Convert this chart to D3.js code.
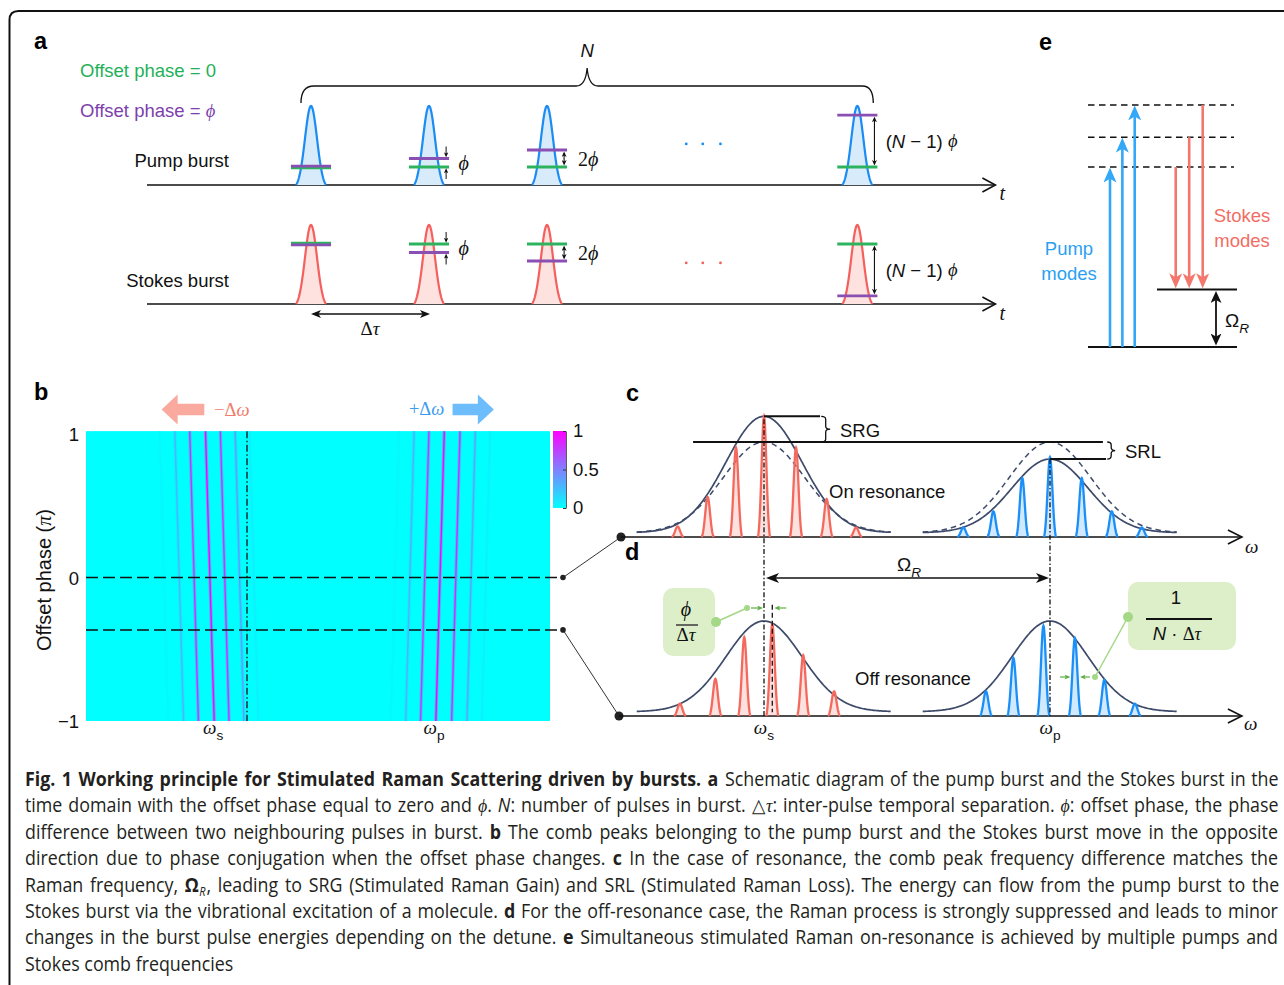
<!DOCTYPE html>
<html>
<head>
<meta charset="utf-8">
<title>Stimulated Raman Scattering driven by bursts</title>
<script src="https://cdn.jsdelivr.net/npm/d3@7/dist/d3.min.js"></script>
<style>
  html, body { margin: 0; padding: 0; background: #fff; }
  svg { display: block; }
</style>
</head>
<body>
<svg id="fig" width="1284" height="985" xmlns="http://www.w3.org/2000/svg"></svg>
<script>
// ---------------- data ----------------
// (a) burst pulses: arrival time in units of Δτ, phase of each pulse in units of ϕ
const pulseTimes       = [0, 1, 2, 4.63];
const pulseAmp         = [1, 1, 1, 1];
const pumpPhaseSteps   = [0, 1, 2, 6.1];
const stokesPhaseSteps = [0, -1, -2, -6.1];
const ellipsisTimes    = [3.18, 3.32, 3.47];

// (b) comb lines versus offset phase: frequency at zero phase (a.u.) and normalised strength
const stokesLineFreq  = [16.8, 20.1, 23.3, 26.7, 29.9, 33.1, 36.2];
const stokesLineLevel = [0.03, 0.28, 0.8, 1.0, 0.8, 0.38, 0.06];
const pumpLineFreq    = [66.6, 69.8, 73.0, 76.3, 79.7, 83.0, 86.2];
const pumpLineLevel   = [0.03, 0.3, 0.78, 1.0, 0.82, 0.35, 0.06];
const lineDrift       = [-0.93, 0.9];        // shift per π of offset phase: Stokes, pump
const phaseTicks      = [1, 0, -1];
const phaseTickLabels = ["1", "0", "−1"];
const colorbarTicks   = [1, 0.5, 0];
const colorbarLabels  = ["1", "0.5", "0"];
const freqTicks       = [27.4, 75.0];        // ω_s, ω_p
const freqTickSubs    = ["s", "p"];
const stokesRefFreq   = 34.7;
const selectedPhases  = [0, -0.365];         // on resonance (c), off resonance (d)

// (c, d) spectra: frequency in units of Ω_R measured from ω_s, amplitude relative to the input envelope
const combOnStokesFreq  = [-0.302, -0.197, -0.098, 0, 0.112, 0.219, 0.322];
const combOnStokesAmp   = [0.11, 0.42, 0.94, 1.27, 0.94, 0.40, 0.10];
const combOnPumpFreq    = [0.697, 0.802, 0.903, 1.0, 1.111, 1.216, 1.321];
const combOnPumpAmp     = [0.10, 0.27, 0.62, 0.84, 0.62, 0.27, 0.10];
const combOffStokesFreq = [-0.294, -0.170, -0.069, 0.029, 0.137, 0.245];
const combOffStokesAmp  = [0.13, 0.39, 0.83, 0.97, 0.64, 0.26];
const combOffPumpFreq   = [0.776, 0.872, 0.977, 1.087, 1.190, 1.297];
const combOffPumpAmp    = [0.26, 0.61, 0.95, 0.82, 0.38, 0.13];
const envelopeCenters   = [0, 1];            // ω_s, ω_p
const envelopeOnPeaks   = [1.27, 0.82];      // after gain / loss
const envelopeInputPeak = 1.0;
const envelopeOffPeaks  = [1.0, 1.0];

// (e) energy levels in units of Ω_R
const virtualLevels = [3.13, 3.65, 4.21];
const vibLevel = 1;

// caption
const captionTitle = "Fig. 1 Working principle for Stimulated Raman Scattering driven by bursts. a";
const captionLines = [
  [["Schematic diagram of the pump burst and the Stokes burst in the", ""]],
  [["time domain with the offset phase equal to zero and ", ""], ["ϕ", "m"], [". ", ""], ["N", "i"],
   [": number of pulses in burst. ", ""], ["△", "g"], ["τ", "m"], [": inter-pulse temporal separation. ", ""],
   ["ϕ", "m"], [": offset phase, the phase", ""]],
  [["difference between two neighbouring pulses in burst. ", ""], ["b", "b"],
   [" The comb peaks belonging to the pump burst and the Stokes burst move in the opposite", ""]],
  [["direction due to phase conjugation when the offset phase changes. ", ""], ["c", "b"],
   [" In the case of resonance, the comb peak frequency difference matches the", ""]],
  [["Raman frequency, ", ""], ["Ω", "b"], ["R", "_i"],
   [", leading to SRG (Stimulated Raman Gain) and SRL (Stimulated Raman Loss). The energy can flow from the pump burst to the", ""]],
  [["Stokes burst via the vibrational excitation of a molecule. ", ""], ["d", "b"],
   [" For the off-resonance case, the Raman process is strongly suppressed and leads to minor", ""]],
  [["changes in the burst pulse energies depending on the detune. ", ""], ["e", "b"],
   [" Simultaneous stimulated Raman on-resonance is achieved by multiple pumps and", ""]],
  [["Stokes comb frequencies", ""]]
];

// ---------------- drawing ----------------
const svg = d3.select("#fig");
const defs = svg.append("defs");
const SANS = "'Liberation Sans', Arial, Helvetica, sans-serif";
const SERIF = "'Liberation Serif', 'Times New Roman', serif";
const CAPF = "'Open Sans', 'Noto Sans', sans-serif";
const INK = "#111";

let markerCount = 0;
function arrowHead(color, len, wid) {
  const id = "ah" + (markerCount++);
  defs.append("marker").attr("id", id)
    .attr("viewBox", "0 0 10 10").attr("preserveAspectRatio", "none")
    .attr("refX", 6).attr("refY", 5)
    .attr("markerWidth", len).attr("markerHeight", wid)
    .attr("markerUnits", "userSpaceOnUse").attr("orient", "auto-start-reverse")
    .append("path").attr("d", "M0,0 L10,5 L0,10 L2.6,5 Z").attr("fill", color);
  return `url(#${id})`;
}
function arrow(g, x1, y1, x2, y2, o = {}) {
  const color = o.color || INK, len = o.len || 10, wid = o.wid || 8;
  const m = arrowHead(color, len, wid);
  const L = Math.hypot(x2 - x1, y2 - y1), ux = (x2 - x1) / L, uy = (y2 - y1) / L, b = 0.4 * len;
  const ln = g.append("line")
    .attr("x1", o.both ? x1 + ux * b : x1).attr("y1", o.both ? y1 + uy * b : y1)
    .attr("x2", x2 - ux * b).attr("y2", y2 - uy * b)
    .attr("stroke", color).attr("stroke-width", o.width || 1.4)
    .attr("marker-end", m);
  if (o.both) ln.attr("marker-start", m);
  return ln;
}
function rich(g, x, y, parts, o = {}) {
  const size = o.size || 18;
  const t = g.append("text").attr("x", x).attr("y", y)
    .attr("font-family", o.family || SANS).attr("font-size", size)
    .attr("fill", o.fill || INK);
  if (o.anchor) t.attr("text-anchor", o.anchor);
  if (o.baseline) t.attr("dominant-baseline", o.baseline);
  let shifted = 0;
  parts.forEach(p => {
    const [str, st] = typeof p === "string" ? [p, ""] : p;
    const s = t.append("tspan").text(str);
    if (st.includes("m")) s.attr("font-family", SERIF).attr("font-style", "italic");
    if (st.includes("g")) s.attr("font-family", SERIF);
    if (st.includes("i")) s.attr("font-style", "italic");
    if (st.includes("b")) s.attr("font-weight", "bold");
    if (st.includes("_")) {
      const d = size * 0.3;
      s.attr("font-size", size * 0.72).attr("dy", d - shifted);
      shifted = d;
    } else if (shifted) {
      s.attr("dy", -shifted);
      shifted = 0;
    }
  });
  return t;
}
function openChevron(g, x, y, len, half) {
  g.append("path").attr("d", `M${x - len},${y - half} L${x},${y} L${x - len},${y + half}`)
    .attr("fill", "none").attr("stroke", INK).attr("stroke-width", 1.6);
}
function vbrace(g, x, y1, y2, w) {
  const m = (y1 + y2) / 2, h = w / 2;
  g.append("path")
    .attr("d", `M${x},${y1} Q${x + h},${y1} ${x + h},${y1 + 3} L${x + h},${m - 3} Q${x + h},${m} ${x + w},${m} ` +
               `Q${x + h},${m} ${x + h},${m + 3} L${x + h},${y2 - 3} Q${x + h},${y2} ${x},${y2}`)
    .attr("fill", "none").attr("stroke", INK).attr("stroke-width", 1.3);
}

// outer frame
svg.append("path").attr("d", "M9.5,995 V20 Q9.5,11 18.5,11 H1295")
  .attr("fill", "none").attr("stroke", INK).attr("stroke-width", 2);

// panel letters
[["a", 34, 49], ["e", 1039, 50], ["b", 34, 400], ["c", 626, 401], ["d", 625, 560]].forEach(([s, x, y]) =>
  svg.append("text").attr("x", x).attr("y", y).attr("font-family", SANS).attr("font-weight", "bold")
    .attr("font-size", 23.5).attr("fill", "#000").text(s));

// ======== (a) pump and Stokes bursts in time ========
const gA = svg.append("g");
const tX = d3.scaleLinear().domain([0, 1]).range([311, 429]);
const GREEN = "#2db35e", PURPLE = "#8a4fb3";
rich(gA, 80, 77, ["Offset phase = 0"], { fill: "#1fb15a", size: 18.5 });
rich(gA, 80, 117, ["Offset phase = ", ["ϕ", "m"]], { fill: "#7d3fae", size: 18.5 });

const rowsA = [
  { label: "Pump burst", labelY: 167, base: 185, peak: 106, ref: 167, steps: pumpPhaseSteps,
    stroke: "#1a8cf3", fill: "#d8ebfa", split: -0.9, tY: 200 },
  { label: "Stokes burst", labelY: 287, base: 304, peak: 225, ref: 244, steps: stokesPhaseSteps,
    stroke: "#f3605d", fill: "#fde2df", split: 0.9, tY: 320 }
];
const pulseSigma = 0.051, pulseHalf = 0.127;
const pulseE0 = Math.exp(-pulseHalf * pulseHalf / (2 * pulseSigma * pulseSigma));
const pulseShape = u => (Math.exp(-u * u / (2 * pulseSigma * pulseSigma)) - pulseE0) / (1 - pulseE0);
const pulseU = d3.range(-pulseHalf, pulseHalf + 1e-9, pulseHalf / 40);
const markerHalf = 0.17;

rowsA.forEach(r => {
  const yA = d3.scaleLinear().domain([0, 1]).range([r.base, r.peak]);
  const yP = d3.scaleLinear().domain([0, 1]).range([r.ref, r.ref - 8.5]);
  const ax0 = tX(-1.39), ax1 = tX(5.8);
  gA.append("line").attr("x1", ax0).attr("x2", ax1).attr("y1", r.base).attr("y2", r.base)
    .attr("stroke", INK).attr("stroke-width", 1.6);
  openChevron(gA, ax1, r.base, 13, 7);
  rich(gA, ax1 + 4, r.tY, [["t", "m"]], { size: 20 });
  rich(gA, 229, r.labelY, [r.label], { anchor: "end", size: 18.5 });

  pulseTimes.forEach((t, k) => {
    const area = d3.area().x(u => tX(t + u)).y0(r.base).y1(u => yA(pulseAmp[k] * pulseShape(u)));
    const line = d3.line().x(u => tX(t + u)).y(u => yA(pulseAmp[k] * pulseShape(u)));
    gA.append("path").attr("d", area(pulseU)).attr("fill", r.fill);
    gA.append("path").attr("d", line(pulseU)).attr("fill", "none")
      .attr("stroke", r.stroke).attr("stroke-width", 2.2);

    const step = r.steps[k];
    const yG = yP(0) - (step === 0 ? r.split : 0);
    const yU = yP(step) + (step === 0 ? r.split : 0);
    const mx0 = tX(t - markerHalf), mx1 = tX(t + markerHalf);
    gA.append("line").attr("x1", mx0).attr("x2", mx1).attr("y1", yG).attr("y2", yG)
      .attr("stroke", GREEN).attr("stroke-width", 2.8);
    gA.append("line").attr("x1", mx0).attr("x2", mx1).attr("y1", yU).attr("y2", yU)
      .attr("stroke", PURPLE).attr("stroke-width", 2.8);

    if (step === 0) return;
    const top = Math.min(yG, yU), bot = Math.max(yG, yU), mid = (top + bot) / 2;
    const axx = tX(t + 0.145);
    const n = Math.abs(step);
    if (n === 1) {
      arrow(gA, axx, top - 12, axx, top - 1.2, { len: 5, wid: 4.5, width: 1 });
      arrow(gA, axx, bot + 12, axx, bot + 1.2, { len: 5, wid: 4.5, width: 1 });
      rich(gA, tX(t + 0.25), mid, [["ϕ", "m"]], { size: 20, baseline: "central" });
    } else {
      arrow(gA, axx, top + 1.5, axx, bot - 1.5, { both: true, len: 5.5, wid: 5, width: 1.1 });
      const parts = n === 2 ? [["2", "g"], ["ϕ", "m"]] : ["(", ["N", "i"], " − 1) ", ["ϕ", "m"]];
      rich(gA, tX(t + (n === 2 ? 0.262 : 0.24)), mid, parts, { size: n === 2 ? 20 : 18.5, baseline: "central" });
    }
  });
  ellipsisTimes.forEach(t => gA.append("circle").attr("cx", tX(t)).attr("cy", yA(0.52)).attr("r", 1.4)
    .attr("fill", r.stroke));
});

// brace over the N pulses
{
  const xl = tX(pulseTimes[0] - 0.085), xr = tX(pulseTimes[pulseTimes.length - 1] + 0.135), xm = (xl + xr) / 2;
  gA.append("path")
    .attr("d", `M${xl},103 C${xl},92 ${xl + 4},86 ${xl + 13},86 L${xm - 11},86 C${xm - 4},86 ${xm - 1},80 ${xm},68 ` +
               `C${xm + 1},80 ${xm + 4},86 ${xm + 11},86 L${xr - 11},86 C${xr - 3},86 ${xr},92 ${xr},103`)
    .attr("fill", "none").attr("stroke", INK).attr("stroke-width", 1.3);
  rich(gA, xm, 57, [["N", "i"]], { anchor: "middle", size: 18.5 });
}
// inter-pulse separation
arrow(gA, tX(pulseTimes[0]), 314, tX(pulseTimes[1]) + 1, 314, { both: true, len: 10, wid: 8, width: 1.4 });
rich(gA, (tX(pulseTimes[0]) + tX(pulseTimes[1])) / 2, 335, [["Δ", "g"], ["τ", "m"]], { anchor: "middle", size: 19 });

// ======== (e) energy level diagram ========
const gE = svg.append("g");
const eY = d3.scaleLinear().domain([0, 1]).range([347, 289.5]);
const BLUE_E = "#33a8f6", RED_E = "#f4776e";
const pumpArrowX = d3.scalePoint().domain(d3.range(virtualLevels.length)).range([1110, 1134.7]);
const stokesArrowX = d3.scalePoint().domain(d3.range(virtualLevels.length)).range([1175.7, 1202.7]);
virtualLevels.forEach(v => gE.append("line").attr("x1", 1088).attr("x2", 1234).attr("y1", eY(v)).attr("y2", eY(v))
  .attr("stroke", INK).attr("stroke-width", 1.5).attr("stroke-dasharray", "6.5,4.5"));
gE.append("line").attr("x1", 1088).attr("x2", 1237).attr("y1", eY(0)).attr("y2", eY(0))
  .attr("stroke", INK).attr("stroke-width", 2);
gE.append("line").attr("x1", 1157).attr("x2", 1237).attr("y1", eY(vibLevel)).attr("y2", eY(vibLevel))
  .attr("stroke", INK).attr("stroke-width", 2);
virtualLevels.forEach((v, i) => arrow(gE, pumpArrowX(i), eY(0), pumpArrowX(i), eY(v) + 0.5,
  { color: BLUE_E, width: 2.6, len: 15, wid: 13 }));
virtualLevels.forEach((v, i) => arrow(gE, stokesArrowX(i), eY(v), stokesArrowX(i), eY(vibLevel) - 1.2,
  { color: RED_E, width: 2.6, len: 15, wid: 13 }));
arrow(gE, 1216, eY(vibLevel) + 1.5, 1216, eY(0) - 1.5, { both: true, width: 1.8, len: 12, wid: 11 });
rich(gE, 1225, 327, ["Ω", ["R", "_i"]], { size: 19 });
rich(gE, 1242, 222, ["Stokes"], { anchor: "middle", fill: "#f26d63", size: 18.5 });
rich(gE, 1242, 247, ["modes"], { anchor: "middle", fill: "#f26d63", size: 18.5 });
rich(gE, 1069, 255, ["Pump"], { anchor: "middle", fill: "#2b9ff2", size: 18.5 });
rich(gE, 1069, 280, ["modes"], { anchor: "middle", fill: "#2b9ff2", size: 18.5 });

// ======== (b) comb lines versus offset phase ========
const gB = svg.append("g");
const hx = d3.scaleLinear().domain([0, 100]).range([86, 550]);
const hy = d3.scaleLinear().domain([-1, 1]).range([721, 434]);
const cool = t => d3.rgb(255 * t, 255 * (1 - t), 255).toString();

defs.append("clipPath").attr("id", "heatClip").append("rect")
  .attr("x", hx(0)).attr("y", hy(1.02)).attr("width", hx(100) - hx(0)).attr("height", hy(-1) - hy(1.02));
gB.append("rect").attr("x", hx(0)).attr("y", hy(1.02)).attr("width", hx(100) - hx(0))
  .attr("height", hy(-1) - hy(1.02)).attr("fill", cool(0));
const gLines = gB.append("g").attr("clip-path", "url(#heatClip)");
[[stokesLineFreq, stokesLineLevel, lineDrift[0]], [pumpLineFreq, pumpLineLevel, lineDrift[1]]].forEach(([f, lv, dr]) => {
  f.forEach((c, i) => {
    const x1 = hx(c - dr * 1.02), x2 = hx(c + dr * 1.02);
    gLines.append("line").attr("x1", x1).attr("x2", x2).attr("y1", hy(-1.02)).attr("y2", hy(1.02))
      .attr("stroke", cool(lv[i] * 0.3)).attr("stroke-width", 3.4);
    gLines.append("line").attr("x1", x1).attr("x2", x2).attr("y1", hy(-1.02)).attr("y2", hy(1.02))
      .attr("stroke", cool(lv[i])).attr("stroke-width", 1.4);
  });
});
gB.append("line").attr("x1", hx(stokesRefFreq)).attr("x2", hx(stokesRefFreq)).attr("y1", hy(1.02)).attr("y2", hy(-1))
  .attr("stroke", INK).attr("stroke-width", 1.3).attr("stroke-dasharray", "7,2.5,1.5,2.5");

// selected phases linked to the spectra in (c) and (d)
const linkTargets = [[621, 537], [619, 716]];
selectedPhases.forEach((p, i) => {
  gB.append("line").attr("x1", hx(0)).attr("x2", hx(101.7)).attr("y1", hy(p)).attr("y2", hy(p))
    .attr("stroke", INK).attr("stroke-width", 1.5).attr("stroke-dasharray", "12,5");
  gB.append("line").attr("x1", hx(102.8)).attr("y1", hy(p)).attr("x2", linkTargets[i][0]).attr("y2", linkTargets[i][1])
    .attr("stroke", "#333").attr("stroke-width", 1);
  gB.append("circle").attr("cx", hx(102.8)).attr("cy", hy(p)).attr("r", 2.8).attr("fill", "#222");
  gB.append("circle").attr("cx", linkTargets[i][0]).attr("cy", linkTargets[i][1]).attr("r", 4.5).attr("fill", "#222");
});

phaseTicks.forEach((v, i) => rich(gB, 79, hy(v), [phaseTickLabels[i]], { anchor: "end", baseline: "central", size: 18.5 }));
rich(gB, 0, 0, ["Offset phase (", ["π", "m"], ")"], { anchor: "middle", size: 20 })
  .attr("transform", "translate(51,580) rotate(-90)");
freqTicks.forEach((v, i) => rich(gB, hx(v), 734, [["ω", "m"], [freqTickSubs[i], "_"]], { anchor: "middle", size: 19 }));

// colour bar
const cbY = d3.scaleLinear().domain([0, 1]).range([508, 431]);
const grad = defs.append("linearGradient").attr("id", "coolGrad").attr("x1", 0).attr("y1", 1).attr("x2", 0).attr("y2", 0);
d3.range(0, 1.001, 0.25).forEach(s => grad.append("stop").attr("offset", s).attr("stop-color", cool(s)));
gB.append("rect").attr("x", 553).attr("y", cbY(1)).attr("width", 13).attr("height", cbY(0) - cbY(1)).attr("fill", "url(#coolGrad)");
const cbAxis = gB.append("g").attr("transform", "translate(566,0)")
  .call(d3.axisRight(cbY).tickValues(colorbarTicks).tickSizeInner(-3).tickSizeOuter(0).tickPadding(7)
    .tickFormat((d, i) => colorbarLabels[i]));
cbAxis.select(".domain").attr("stroke", "#333").attr("stroke-width", 0.8);
cbAxis.selectAll(".tick line").attr("stroke", "#333");
cbAxis.selectAll("text").attr("font-family", SANS).attr("font-size", 18.5).attr("fill", INK);

// direction of the comb shift
function bigArrow(g, xTail, xTip, yc, fill) {
  const dir = Math.sign(xTip - xTail), hb = xTip - dir * 16;
  g.append("path").attr("d",
    `M${xTail},${yc - 5.8} L${hb},${yc - 5.8} L${hb},${yc - 15} L${xTip},${yc} L${hb},${yc + 15} L${hb},${yc + 5.8} L${xTail},${yc + 5.8} Z`)
    .attr("fill", fill);
}
bigArrow(gB, hx(25.5), hx(16.3), 409.5, "#f9a99e");
rich(gB, hx(27.6), 416, [["−Δ", "g"], ["ω", "m"]], { fill: "#f27a69", size: 18.5 });
bigArrow(gB, hx(79.0), hx(87.9), 409.5, "#6dbdfc");
rich(gB, hx(69.6), 415, [["+Δ", "g"], ["ω", "m"]], { fill: "#3b9cf0", size: 18.5 });

// ======== (c, d) spectra ========
const gC = svg.append("g");
const fX = d3.scaleLinear().domain([0, 1]).range([764, 1050]);
const yC = d3.scaleLinear().domain([0, 1]).range([537, 442]);
const yD = d3.scaleLinear().domain([0, 1]).range([716, 621]);
const ENV = "#3d4a69", RED_T = "#f4695d", BLUE_T = "#1a8ff8";
const envSigma = 0.133, envSigmaRef = 0.143, envPed = 0.045, envHalf = 0.445;
const envShape = (u, c, peak, s) => envPed + (peak - envPed) * Math.exp(-((u - c) ** 2) / (2 * s * s));
const toothSigma = 0.0085, toothHalf = 0.021;
const toothE0 = Math.exp(-toothHalf * toothHalf / (2 * toothSigma * toothSigma));
const toothShape = u => Math.max(0, (Math.exp(-u * u / (2 * toothSigma * toothSigma)) - toothE0) / (1 - toothE0));
const toothU = d3.range(-toothHalf, toothHalf + 1e-9, toothHalf / 20);

function drawEnvelope(g, yS, c, peak, s, dashed) {
  const us = d3.range(c - envHalf, c + envHalf + 1e-9, 0.004);
  const line = d3.line().x(u => fX(u)).y(u => yS(envShape(u, c, peak, s)));
  g.append("path").attr("d", line(us)).attr("fill", "none").attr("stroke", ENV)
    .attr("stroke-width", dashed ? 1.5 : 1.7).attr("stroke-dasharray", dashed ? "5.5,4" : null);
}
function drawComb(g, yS, freqs, amps, color) {
  freqs.forEach((f, i) => {
    const area = d3.area().x(u => fX(f + u)).y0(yS(0)).y1(u => yS(amps[i] * toothShape(u)));
    const line = d3.line().x(u => fX(f + u)).y(u => yS(amps[i] * toothShape(u)));
    g.append("path").attr("d", area(toothU)).attr("fill", color).attr("fill-opacity", 0.2);
    g.append("path").attr("d", line(toothU)).attr("fill", "none").attr("stroke", color).attr("stroke-width", 2.3);
  });
}
function freqAxis(g, y, xStart) {
  const xEnd = fX(1.671);
  g.append("line").attr("x1", xStart).attr("x2", xEnd).attr("y1", y).attr("y2", y).attr("stroke", INK).attr("stroke-width", 1.6);
  openChevron(g, xEnd, y, 14, 7);
}

// (c) on resonance
freqAxis(gC, yC(0), fX(-0.5));
envelopeCenters.forEach((c, i) => {
  drawEnvelope(gC, yC, c, envelopeOnPeaks[i], envSigma, false);
  drawEnvelope(gC, yC, c, envelopeInputPeak, envSigmaRef, true);
});
drawComb(gC, yC, combOnStokesFreq, combOnStokesAmp, RED_T);
drawComb(gC, yC, combOnPumpFreq, combOnPumpAmp, BLUE_T);
rich(gC, fX(1.671) + 3, 553, [["ω", "m"]], { size: 19 });

// gain / loss markers
gC.append("line").attr("x1", fX(0)).attr("x2", fX(0.196)).attr("y1", yC(envelopeOnPeaks[0])).attr("y2", yC(envelopeOnPeaks[0]))
  .attr("stroke", INK).attr("stroke-width", 2);
gC.append("line").attr("x1", fX(-0.248)).attr("x2", fX(1.185)).attr("y1", yC(envelopeInputPeak)).attr("y2", yC(envelopeInputPeak))
  .attr("stroke", INK).attr("stroke-width", 2);
gC.append("line").attr("x1", fX(1)).attr("x2", fX(1.196)).attr("y1", yC(envelopeOnPeaks[1])).attr("y2", yC(envelopeOnPeaks[1]))
  .attr("stroke", INK).attr("stroke-width", 2);
vbrace(gC, fX(0.2), yC(envelopeOnPeaks[0]), yC(envelopeInputPeak), 9);
vbrace(gC, fX(1.2), yC(envelopeInputPeak), yC(envelopeOnPeaks[1]), 8);
rich(gC, 840, 437, ["SRG"], { size: 18.5 });
rich(gC, 1125, 458, ["SRL"], { size: 18.5 });
rich(gC, 829, 498, ["On resonance"], { size: 18.5 });

// (d) off resonance
freqAxis(gC, yD(0), fX(-0.507));
envelopeCenters.forEach((c, i) => drawEnvelope(gC, yD, c, envelopeOffPeaks[i], envSigma, false));
drawComb(gC, yD, combOffStokesFreq, combOffStokesAmp, RED_T);
drawComb(gC, yD, combOffPumpFreq, combOffPumpAmp, BLUE_T);
rich(gC, fX(1.671) + 2, 730, [["ω", "m"]], { size: 19 });
rich(gC, 855, 685, ["Off resonance"], { size: 18.5 });

// reference frequencies
gC.append("line").attr("x1", fX(envelopeCenters[0])).attr("x2", fX(envelopeCenters[0]))
  .attr("y1", yC(envelopeOnPeaks[0]) + 3).attr("y2", yD(0))
  .attr("stroke", INK).attr("stroke-width", 1.3).attr("stroke-dasharray", "5,2.2,1.4,2.2");
gC.append("line").attr("x1", fX(envelopeCenters[1])).attr("x2", fX(envelopeCenters[1]))
  .attr("y1", yC(envelopeOnPeaks[1])).attr("y2", yD(0))
  .attr("stroke", INK).attr("stroke-width", 1.3).attr("stroke-dasharray", "5,2.2,1.4,2.2");
gC.append("line").attr("x1", fX(combOffStokesFreq[3])).attr("x2", fX(combOffStokesFreq[3]))
  .attr("y1", yD(1.17)).attr("y2", yD(0.04))
  .attr("stroke", INK).attr("stroke-width", 1.3).attr("stroke-dasharray", "5,3");
envelopeCenters.forEach((c, i) =>
  rich(gC, fX(c), 734, [["ω", "m"], [freqTickSubs[i], "_"]], { anchor: "middle", size: 19 }));

// Raman shift between the combs
arrow(gC, fX(0) + 2, 578, fX(1) - 1, 578, { both: true, len: 13, wid: 10, width: 1.5 });
rich(gC, fX(0.5) + 2, 571, ["Ω", ["R", "_i"]], { anchor: "middle", size: 19 });

// call-outs
const BOX = "#dcefc9", LINK = "#a4d886", TICK = "#5fae44";
gC.append("rect").attr("x", 663).attr("y", 588).attr("width", 52).attr("height", 68).attr("rx", 10).attr("fill", BOX);
rich(gC, 686, 616, [["ϕ", "m"]], { anchor: "middle", size: 20 });
gC.append("line").attr("x1", 676).attr("x2", 698).attr("y1", 625).attr("y2", 625).attr("stroke", "#444").attr("stroke-width", 1.6);
rich(gC, 686, 641, [["Δ", "g"], ["τ", "m"]], { anchor: "middle", size: 19 });
gC.append("line").attr("x1", 716).attr("y1", 622).attr("x2", 747).attr("y2", 608).attr("stroke", LINK).attr("stroke-width", 1.5);
gC.append("circle").attr("cx", 716).attr("cy", 622).attr("r", 5).attr("fill", LINK);
gC.append("circle").attr("cx", 747).attr("cy", 608).attr("r", 3).attr("fill", LINK);
arrow(gC, fX(0) - 13, 608, fX(0) - 1, 608, { color: TICK, len: 6, wid: 5, width: 1.2 });
arrow(gC, fX(combOffStokesFreq[3]) + 14, 608, fX(combOffStokesFreq[3]) + 2, 608, { color: TICK, len: 6, wid: 5, width: 1.2 });

gC.append("rect").attr("x", 1128).attr("y", 582).attr("width", 108).attr("height", 68).attr("rx", 10).attr("fill", BOX);
rich(gC, 1176, 604, ["1"], { anchor: "middle", size: 18.5 });
gC.append("line").attr("x1", 1146).attr("x2", 1212).attr("y1", 619).attr("y2", 619).attr("stroke", INK).attr("stroke-width", 2);
rich(gC, 1177, 640, [["N", "i"], " · ", ["Δ", "g"], ["τ", "m"]], { anchor: "middle", size: 18.5 });
gC.append("line").attr("x1", 1128).attr("y1", 617).attr("x2", 1095).attr("y2", 677).attr("stroke", LINK).attr("stroke-width", 1.5);
gC.append("circle").attr("cx", 1128).attr("cy", 617).attr("r", 5).attr("fill", LINK);
gC.append("circle").attr("cx", 1095).attr("cy", 677).attr("r", 3).attr("fill", LINK);
arrow(gC, fX(combOffPumpFreq[3]) - 15, 677, fX(combOffPumpFreq[3]) - 4.5, 677, { color: TICK, len: 6, wid: 5, width: 1.2 });
arrow(gC, fX(combOffPumpFreq[3]) + 15, 677, fX(combOffPumpFreq[3]) + 5, 677, { color: TICK, len: 6, wid: 5, width: 1.2 });

// ======== caption ========
const gCap = svg.append("g").attr("font-family", CAPF).attr("font-size", 19.5).attr("fill", "#231f20");
const capX0 = 25, capX1 = 1279, capY0 = 786, capDY = 26.4;
function capText(x, y, parts) {
  const t = gCap.append("text").attr("x", x).attr("y", y);
  let shifted = 0;
  parts.forEach(([str, st]) => {
    const s = t.append("tspan").text(str);
    if (st.includes("m")) s.attr("font-family", SERIF).attr("font-style", "italic");
    if (st.includes("g")) s.attr("font-family", SERIF);
    if (st.includes("i")) s.attr("font-style", "italic");
    if (st.includes("b")) s.attr("font-weight", "bold");
    if (st.includes("_")) { s.attr("font-size", 12).attr("dy", 4).attr("dx", 0.5); shifted = 4; }
    else if (shifted) { s.attr("dy", -shifted).attr("dx", 1); shifted = 0; }
  });
  return t;
}
// each justified line: condense glyphs horizontally, then spread words to the column edge
const titleEnd = 719, firstStart = 725;
const capItems = [{ node: capText(capX0, capY0, [[captionTitle, "b"]]), x0: capX0, target: titleEnd - capX0, justify: true }];
captionLines.forEach((parts, i) => {
  const x0 = i === 0 ? firstStart : capX0;
  capItems.push({ node: capText(x0, capY0 + i * capDY, parts), x0, target: capX1 - x0, justify: i < captionLines.length - 1 });
});
capItems.forEach(it => {
  it.w = it.node.node().getComputedTextLength();
  it.spaces = (it.node.text().match(/ /g) || []).length;
});
const condense = d3.median(capItems.filter(it => it.justify), it => it.target / it.w) * 0.97;
capItems.forEach(it => {
  const sx = it.justify ? Math.min(condense, it.target / it.w) : condense;
  const ws = it.justify && it.spaces ? (it.target / sx - it.w) / it.spaces : 0;
  it.node.attr("word-spacing", ws)
    .attr("transform", `translate(${it.x0},0) scale(${sx},1) translate(${-it.x0},0)`);
});
</script>
</body>
</html>
